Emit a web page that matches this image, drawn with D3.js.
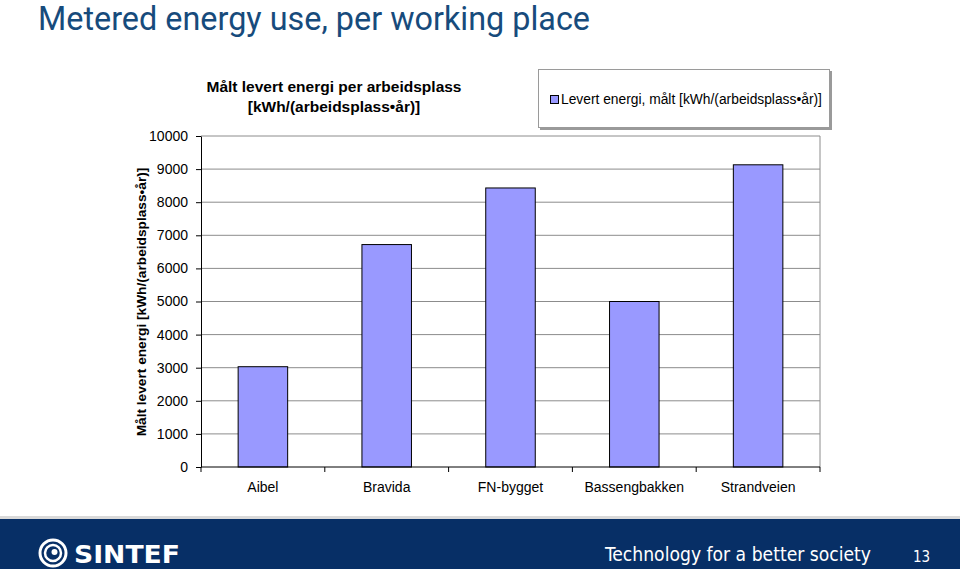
<!DOCTYPE html>
<html>
<head>
<meta charset="utf-8">
<script src="https://cdn.jsdelivr.net/npm/d3@7"></script>
<style>
  body { margin: 0; background: #fff; }
  svg { display: block; }
</style>
</head>
<body>
<div id="chart"></div>
<script>
// slide: metered energy per working place
var categories = ["Aibel", "Bravida", "FN-bygget", "Bassengbakken", "Strandveien"];
var values = [3030, 6720, 8430, 5000, 9130];
var yTicks = [0, 1000, 2000, 3000, 4000, 5000, 6000, 7000, 8000, 9000, 10000];
var legendLabel = "Levert energi, målt [kWh/(arbeidsplass•år)]";

var width = 960, height = 569;
var font = "Liberation Sans, Arial, sans-serif";

var svg = d3.select("#chart").append("svg")
   .attr("width", width)
   .attr("height", height);

// slide title
svg.append("text")
   .attr("x", 38).attr("y", 30)
   .attr("font-family", "Roboto, sans-serif")
   .attr("font-weight", 400)
   .attr("font-size", 33)
   .attr("textLength", 552)
   .attr("lengthAdjust", "spacingAndGlyphs")
   .style("fill", "#174b7c")
   .text("Metered energy use, per working place");

// plot area
var plot = {left: 201, right: 820, top: 136, bottom: 467};

var x = d3.scaleBand()
   .domain(categories)
   .range([plot.left, plot.right])
   .paddingInner(0.6)
   .paddingOuter(0.3);

var y = d3.scaleLinear()
   .domain([0, 10000])
   .range([plot.bottom, plot.top]);

// gridlines
svg.append("g")
   .selectAll("line")
   .data(yTicks.filter(function (d) { return d > 0; }))
   .enter().append("line")
   .attr("x1", plot.left).attr("x2", plot.right)
   .attr("y1", function (d) { return y(d); })
   .attr("y2", function (d) { return y(d); })
   .style("stroke", "#8c8c8c")
   .style("stroke-width", 1);

// right border of plot area
svg.append("line")
   .attr("x1", plot.right).attr("x2", plot.right)
   .attr("y1", plot.top).attr("y2", plot.bottom)
   .style("stroke", "#8c8c8c");

// bars
svg.append("g")
   .selectAll("rect")
   .data(values)
   .enter().append("rect")
   .attr("x", function (d, i) { return x(categories[i]); })
   .attr("y", function (d) { return y(d); })
   .attr("width", x.bandwidth())
   .attr("height", function (d) { return y(0) - y(d); })
   .style("fill", "#9999ff")
   .style("stroke", "#000")
   .style("stroke-width", 1);

// y axis
var yAxis = svg.append("g")
   .attr("transform", "translate(" + plot.left + ",0)")
   .call(d3.axisLeft(y).tickValues(yTicks).tickFormat(d3.format("d"))
      .tickSize(5).tickSizeOuter(0).tickPadding(8));
yAxis.selectAll("text")
   .attr("font-family", font).attr("font-size", 14).style("fill", "#000");
yAxis.selectAll("line, path").style("stroke", "#000");

// x axis, ticks at category boundaries
var xAxis = svg.append("g")
   .attr("transform", "translate(0," + plot.bottom + ")");
xAxis.append("line")
   .attr("x1", plot.left).attr("x2", plot.right)
   .style("stroke", "#000");
var step = x.step();
var bounds = d3.range(categories.length + 1).map(function (i) { return plot.left + i * step; });
xAxis.selectAll(".bt")
   .data(bounds)
   .enter().append("line")
   .attr("x1", function (d) { return d; })
   .attr("x2", function (d) { return d; })
   .attr("y1", 0).attr("y2", 5)
   .style("stroke", "#000");
xAxis.selectAll("text")
   .data(categories)
   .enter().append("text")
   .attr("x", function (d) { return x(d) + x.bandwidth() / 2; })
   .attr("y", 25)
   .attr("text-anchor", "middle")
   .attr("font-family", font).attr("font-size", 14)
   .text(function (d) { return d; });

// y axis title
svg.append("text")
   .attr("transform", "translate(146,302) rotate(-90)")
   .attr("text-anchor", "middle")
   .attr("font-family", font).attr("font-size", 13.7).attr("font-weight", "bold")
   .text("Målt levert energi [kWh/(arbeidsplass•år)]");

// chart title
var ct = svg.append("text")
   .attr("text-anchor", "middle")
   .attr("font-family", font).attr("font-size", 15.5).attr("font-weight", "bold");
ct.append("tspan").attr("x", 334).attr("y", 92).text("Målt levert energi per arbeidsplass");
ct.append("tspan").attr("x", 334).attr("y", 112).text("[kWh/(arbeidsplass•år)]");

// legend box with shadow
svg.append("rect")
   .attr("x", 540).attr("y", 71).attr("width", 292).attr("height", 59)
   .style("fill", "#9a9a9a");
svg.append("rect")
   .attr("x", 538.5).attr("y", 69.5).attr("width", 291).attr("height", 58)
   .style("fill", "#fff").style("stroke", "#9a9a9a");
svg.append("rect")
   .attr("x", 550.5).attr("y", 95.5).attr("width", 8).attr("height", 8)
   .style("fill", "#9999ff").style("stroke", "#000");
svg.append("text")
   .attr("x", 561).attr("y", 104)
   .attr("font-family", font).attr("font-size", 13.8)
   .text(legendLabel);

// footer band
svg.append("rect")
   .attr("x", 0).attr("y", 516).attr("width", width).attr("height", 3)
   .style("fill", "#d9d9d9");
svg.append("rect")
   .attr("x", 0).attr("y", 519).attr("width", width).attr("height", 50)
   .style("fill", "#072f66");

// sintef logo
var logo = svg.append("g").attr("transform", "translate(53,553)");
logo.append("circle").attr("r", 13).style("fill", "none").style("stroke", "#fff").style("stroke-width", 3);
logo.append("circle").attr("r", 8).style("fill", "none").style("stroke", "#fff").style("stroke-width", 2.5);
logo.append("circle").attr("cx", 1.5).attr("cy", -1).attr("r", 3).style("fill", "#fff");
svg.append("text")
   .attr("x", 74).attr("y", 563)
   .attr("font-family", "DejaVu Sans, sans-serif").attr("font-weight", "bold")
   .attr("font-size", 25)
   .attr("textLength", 106).attr("lengthAdjust", "spacingAndGlyphs")
   .style("fill", "#fff")
   .text("SINTEF");

svg.append("text")
   .attr("x", 605).attr("y", 561)
   .attr("font-family", "DejaVu Sans Condensed, sans-serif")
   .attr("font-size", 20)
   .attr("textLength", 266).attr("lengthAdjust", "spacingAndGlyphs")
   .style("fill", "#fff")
   .text("Technology for a better society");
svg.append("text")
   .attr("x", 913).attr("y", 562)
   .attr("font-family", "DejaVu Sans Condensed, sans-serif")
   .attr("font-size", 15)
   .style("fill", "#fff")
   .text("13");
</script>
</body>
</html>
